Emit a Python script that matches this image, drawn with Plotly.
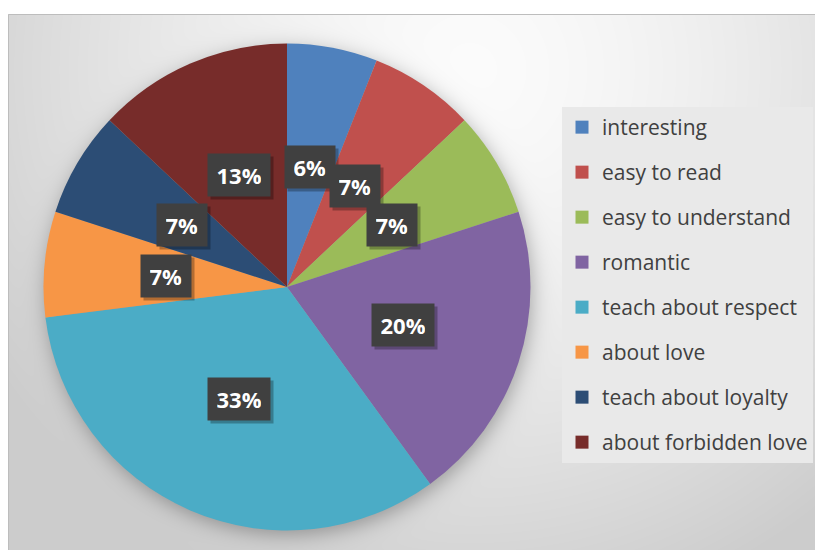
import base64
import struct
import zlib

import numpy as np
import plotly.graph_objects as go

# Survey answers: what readers liked about the story (percent of responses)
categories = [
    "interesting",
    "easy to read",
    "easy to understand",
    "romantic",
    "teach about respect",
    "about love",
    "teach about loyalty",
    "about forbidden love",
]
shares = [6, 7, 7, 20, 33, 7, 7, 13]
colors = ["#4F81BD", "#C0504D", "#9BBB59", "#8064A2",
          "#4BACC6", "#F79646", "#2C4D75", "#772C2A"]

W, H = 815, 550
# pie centre and radius in pixels
CX, CY, R = 287.0, 287.0, 243.5
# chart-area box (pixels)
BX0, BY0, BX1, BY1 = 8, 14, 815, 550


def gradient_png():
    """Soft grey radial backdrop with an outer shadow under the pie."""
    bw, bh = BX1 - BX0, BY1 - BY0
    ys, xs = np.mgrid[0:bh, 0:bw].astype(float)
    px = xs + BX0 + 0.5
    py = ys + BY0 + 0.5
    d = np.hypot(px - 470, py - 70)
    t = np.clip(d / 560.0, 0, 1)
    v = 251 - 47 * t ** 1.5
    ds = np.hypot(px - CX - 2, py - CY - 5) - R
    alpha = 0.30 / (1 + np.exp(ds / 6.0))
    v = v * (1 - alpha)
    img = np.clip(np.round(v), 0, 255).astype(np.uint8)
    raw = b"".join(b"\x00" + img[r].tobytes() for r in range(bh))

    def chunk(tag, data):
        return (struct.pack(">I", len(data)) + tag + data
                + struct.pack(">I", zlib.crc32(tag + data) & 0xFFFFFFFF))

    png = (b"\x89PNG\r\n\x1a\n"
           + chunk(b"IHDR", struct.pack(">IIBBBBB", bw, bh, 8, 0, 0, 0, 0))
           + chunk(b"IDAT", zlib.compress(raw, 9))
           + chunk(b"IEND", b""))
    return "data:image/png;base64," + base64.b64encode(png).decode()


fig = go.Figure()

fig.add_trace(go.Pie(
    labels=categories,
    values=shares,
    marker=dict(colors=colors, line=dict(width=0)),
    sort=False,
    direction="clockwise",
    rotation=0,
    textinfo="none",
    showlegend=False,
    domain=dict(x=[(CX - R) / W, (CX + R) / W],
                y=[1 - (CY + R) / H, 1 - (CY - R) / H]),
))

# legend entries, one group per category so they can be spaced apart
for cat, col in zip(categories, colors):
    fig.add_trace(go.Scatter(
        x=[None], y=[None], mode="markers", name=cat, legendgroup=cat,
        marker=dict(symbol="square", size=13, color=col),
        hoverinfo="skip", showlegend=True,
    ))

# percentage tags at half radius on each slice's mid-angle
annotations = []
total = float(sum(shares))
cum = 0.0
for v in shares:
    mid = (cum + v / 2.0) / total * 2 * np.pi
    cum += v
    lx = CX + 0.5 * R * np.sin(mid)
    ly = CY - 0.5 * R * np.cos(mid)
    ax, ay = lx / W, 1 - ly / H
    label = f"{v}%"
    box_w = 12.6 * (len(label) - 1) + 19
    common = dict(x=ax, y=ay, xref="paper", yref="paper", showarrow=False,
                  borderpad=9, height=24, width=box_w,
                  xanchor="center", yanchor="middle")
    # drop shadow behind the tag
    annotations.append(dict(
        **common, text=" ", xshift=3, yshift=-3, bgcolor="rgba(0,0,0,0.28)",
        font=dict(family="Open Sans", size=22, color="rgba(0,0,0,0)"),
    ))
    annotations.append(dict(
        **common, text=label, bgcolor="#404040",
        font=dict(family="Open Sans", size=22, weight=700, color="#FFFFFF"),
    ))

fig.update_layout(
    width=W,
    height=H,
    margin=dict(l=0, r=0, t=0, b=0),
    paper_bgcolor="#FFFFFF",
    plot_bgcolor="rgba(0,0,0,0)",
    xaxis=dict(visible=False),
    yaxis=dict(visible=False),
    showlegend=True,
    legend=dict(
        x=562 / W, xanchor="left",
        y=1 - 107 / H, yanchor="top",
        bgcolor="#E9E9E9",
        borderwidth=0,
        font=dict(family="Open Sans", size=21, color="#404040"),
        traceorder="grouped",
        tracegroupgap=14.7,
        itemsizing="trace",
    ),
    images=[dict(
        source=gradient_png(), xref="paper", yref="paper",
        x=BX0 / W, y=1 - BY0 / H, sizex=(BX1 - BX0) / W, sizey=(BY1 - BY0) / H,
        sizing="stretch", xanchor="left", yanchor="top", layer="below",
    )],
    shapes=[dict(
        type="rect", xref="paper", yref="paper",
        x0=(BX0 + 0.5) / W, y0=-0.01, x1=1.01, y1=1 - (BY0 + 0.5) / H,
        line=dict(color="#BDBDBD", width=1), fillcolor="rgba(0,0,0,0)",
        layer="above",
    )],
    annotations=annotations,
    hovermode="closest",
)

fig.write_html("out.html")
